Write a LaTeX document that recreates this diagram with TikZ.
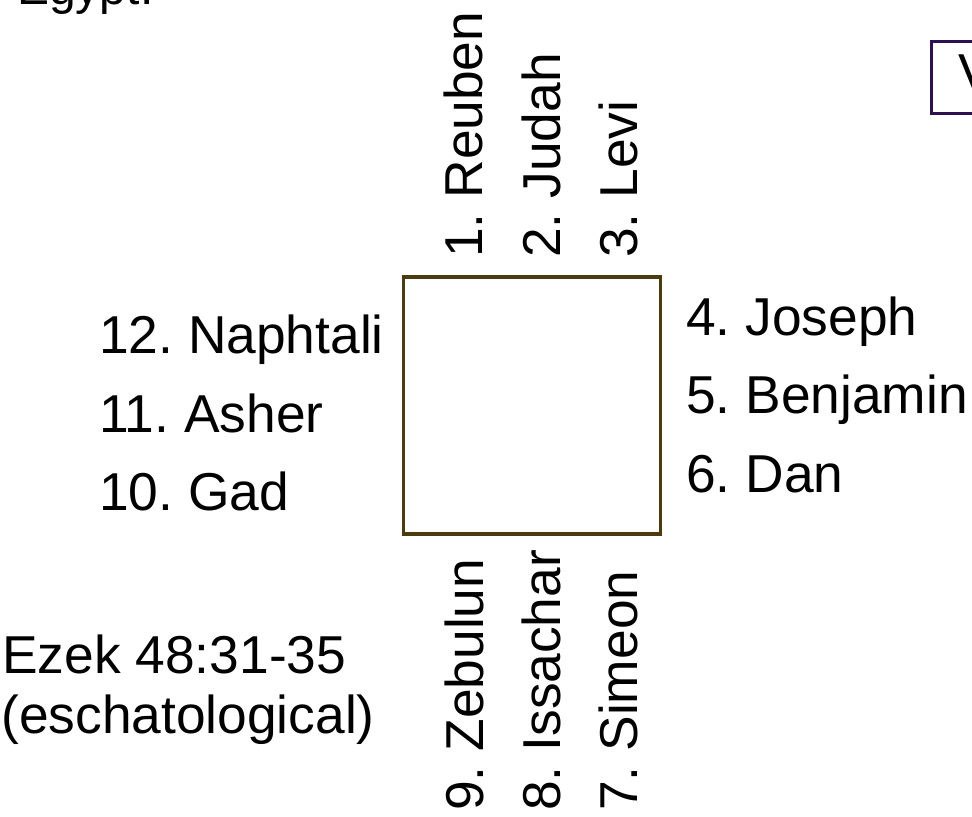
\documentclass[tikz,border=0pt]{standalone}
\usepackage{fontspec}
\setmainfont{Liberation Sans}
\frenchspacing
\definecolor{wallbrown}{RGB}{77,59,16}
\definecolor{notepurple}{RGB}{44,16,80}
\begin{document}
\begin{tikzpicture}[x=0.75pt,y=-0.75pt,
  tribe/.style={anchor=base west,inner sep=0pt,font=\fontsize{40}{46}\selectfont},
  gate/.style={tribe,rotate=90},
  wall/.style={draw=wallbrown,line width=2.5pt,minimum width=192.75pt,minimum height=192.75pt}]
  \useasboundingbox (0,0) rectangle (972,817);
  \clip (0,0) rectangle (972,817);
  \node[tribe,font=\fontsize{36}{42}\selectfont] (egypt) at (17,5) {Egypt.};
  \node[draw=notepurple,line width=2.5pt,anchor=north west,
    minimum width=127.5pt,minimum height=54pt] (note) at (930,40) {};
  \node[tribe] (notetext) at (958,92) {V};
  \node[wall] (city) at (532,405.5) {};
  \node[gate] (reuben) at (482,258) {1. Reuben};
  \node[gate] (judah) at (560,258) {2. Judah};
  \node[gate] (levi) at (637,258) {3. Levi};
  \node[tribe] (joseph) at (686,335) {4. Joseph};
  \node[tribe] (benjamin) at (686,413) {5. Benjamin};
  \node[tribe] (dan) at (686,492) {6. Dan};
  \node[gate] (simeon) at (637,811) {7. Simeon};
  \node[gate] (issachar) at (560,811) {8. Issachar};
  \node[gate] (zebulun) at (483,811) {9. Zebulun};
  \node[tribe] (gad) at (99,510) {10. Gad};
  \node[tribe] (asher) at (99,432) {11. Asher};
  \node[tribe] (naphtali) at (99,353) {12. Naphtali};
  \node[tribe] (ezek) at (2,673) {Ezek 48:31-35};
  \node[tribe] (era) at (1,733) {(eschatological)};
\end{tikzpicture}
\end{document}
